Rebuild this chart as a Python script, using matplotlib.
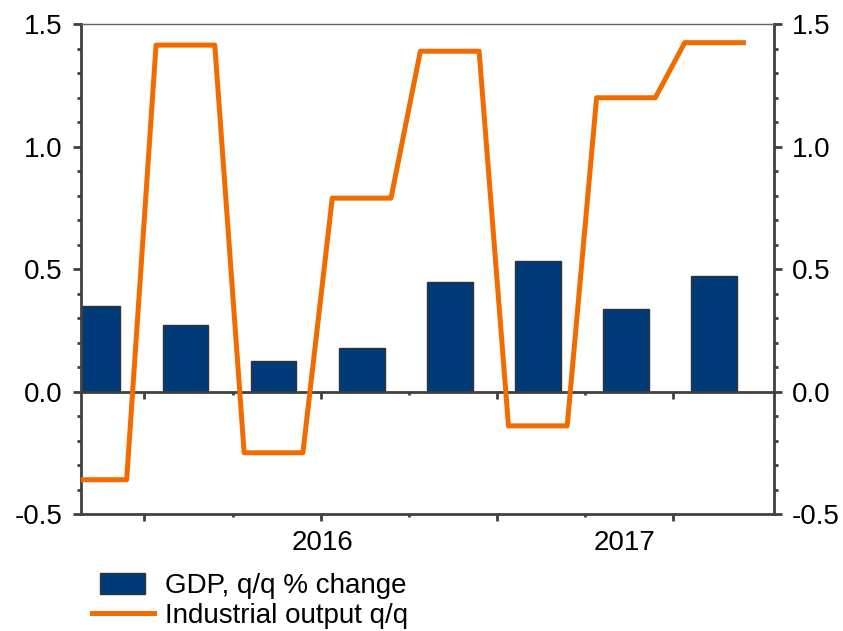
import matplotlib
matplotlib.use('Agg')
import matplotlib.pyplot as plt
import matplotlib.transforms as mtransforms
import numpy as np
from matplotlib.patches import Rectangle
from matplotlib.legend_handler import HandlerPatch
from matplotlib.ticker import MultipleLocator, FixedLocator, NullFormatter

plt.rcParams['font.family'] = ['Liberation Sans', 'DejaVu Sans']
plt.rcParams['axes.unicode_minus'] = False

# quarterly data
quarters = ['2015Q4', '2016Q1', '2016Q2', '2016Q3', '2016Q4', '2017Q1', '2017Q2', '2017Q3']
gdp = [0.35, 0.27, 0.125, 0.18, 0.447, 0.532, 0.338, 0.47]
ind_output = [-0.36, 1.415, -0.25, 0.79, 1.39, -0.14, 1.20, 1.425]
years = ['2016', '2017']
year_pos = [2.52, 5.95]

navy = '#003A78'
orange = '#F06C00'
axcol = '#404040'
fs = 20

fig = plt.figure(figsize=(8.43, 6.31), dpi=100)
ax = fig.add_axes([0.0961, 0.1854, 0.8215, 0.7761])

pos = np.arange(len(quarters)) - 0.035
bars = ax.bar(pos, gdp, width=0.52, color=navy, edgecolor='#333333', linewidth=1,
              zorder=2)

# monthly line: each quarter's value held for its three months
mx = np.repeat(pos, 3) + np.tile([-1/3, 0, 1/3], len(pos))
my = np.repeat(ind_output, 3)
line, = ax.plot(mx, my, color=orange, lw=3.6, zorder=3)

ax.set_xlim(-0.22, 7.64)
ax.set_ylim(-0.5, 1.5)

for s in ['left', 'right', 'bottom']:
    ax.spines[s].set_linewidth(2)
    ax.spines[s].set_color(axcol)
ax.spines['top'].set_linewidth(1)
ax.spines['top'].set_color('#606060')

# y axis on both sides
ax.yaxis.set_major_locator(MultipleLocator(0.5))
ax.yaxis.set_minor_locator(MultipleLocator(0.1))
ax.yaxis.set_major_formatter(plt.FuncFormatter(lambda v, p: '%.1f' % v))
ax.tick_params(axis='y', which='both', left=True, right=True, labelleft=True,
               labelright=True, color=axcol, width=2, labelsize=fs, pad=7)
ax.tick_params(axis='y', which='major', length=6)
ax.tick_params(axis='y', which='minor', length=3)

# x ticks at quarter boundaries
ax.xaxis.set_major_locator(FixedLocator([0.5, 2.5, 4.5, 6.5]))
ax.xaxis.set_minor_locator(FixedLocator([1.5, 3.5, 5.5]))
ax.xaxis.set_major_formatter(NullFormatter())
ax.tick_params(axis='x', which='both', color=axcol, width=2, labelbottom=False)
ax.tick_params(axis='x', which='major', length=5)
ax.tick_params(axis='x', which='minor', length=2.5)

# zero line with its own ticks
zero = ax.secondary_xaxis(0.25)
zero.set_zorder(2.5)
zero.xaxis.set_major_locator(FixedLocator([0.5, 2.5, 4.5, 6.5]))
zero.xaxis.set_minor_locator(FixedLocator([1.5, 3.5, 5.5]))
zero.xaxis.set_major_formatter(NullFormatter())
zero.spines['bottom'].set_linewidth(2)
zero.spines['bottom'].set_color(axcol)
zero.tick_params(axis='x', which='both', color=axcol, width=2, labelbottom=False)
zero.tick_params(axis='x', which='major', length=5)
zero.tick_params(axis='x', which='minor', length=2.5)

trans = mtransforms.blended_transform_factory(ax.transData, ax.transAxes)
for yl, xp in zip(years, year_pos):
    ax.text(xp, -0.06, yl, transform=trans, ha='center', va='center', fontsize=fs)


def small_patch(legend, orig_handle, xdescent, ydescent, width, height, fontsize):
    w = width * 45 / 62
    h = height * 1.06
    return Rectangle((-xdescent + (width - w) / 2, -ydescent - (h - height) / 2), w, h)


fig.legend([bars.patches[0], line], ['GDP, q/q % change', 'Industrial output q/q'],
           loc='upper left', bbox_to_anchor=(0.1088, 0.092),
           frameon=False, fontsize=fs, handlelength=2.23, handletextpad=0.4,
           labelspacing=0.14, borderaxespad=0, borderpad=0,
           handler_map={Rectangle: HandlerPatch(patch_func=small_patch)})

fig.savefig('out.png', dpi=100)
